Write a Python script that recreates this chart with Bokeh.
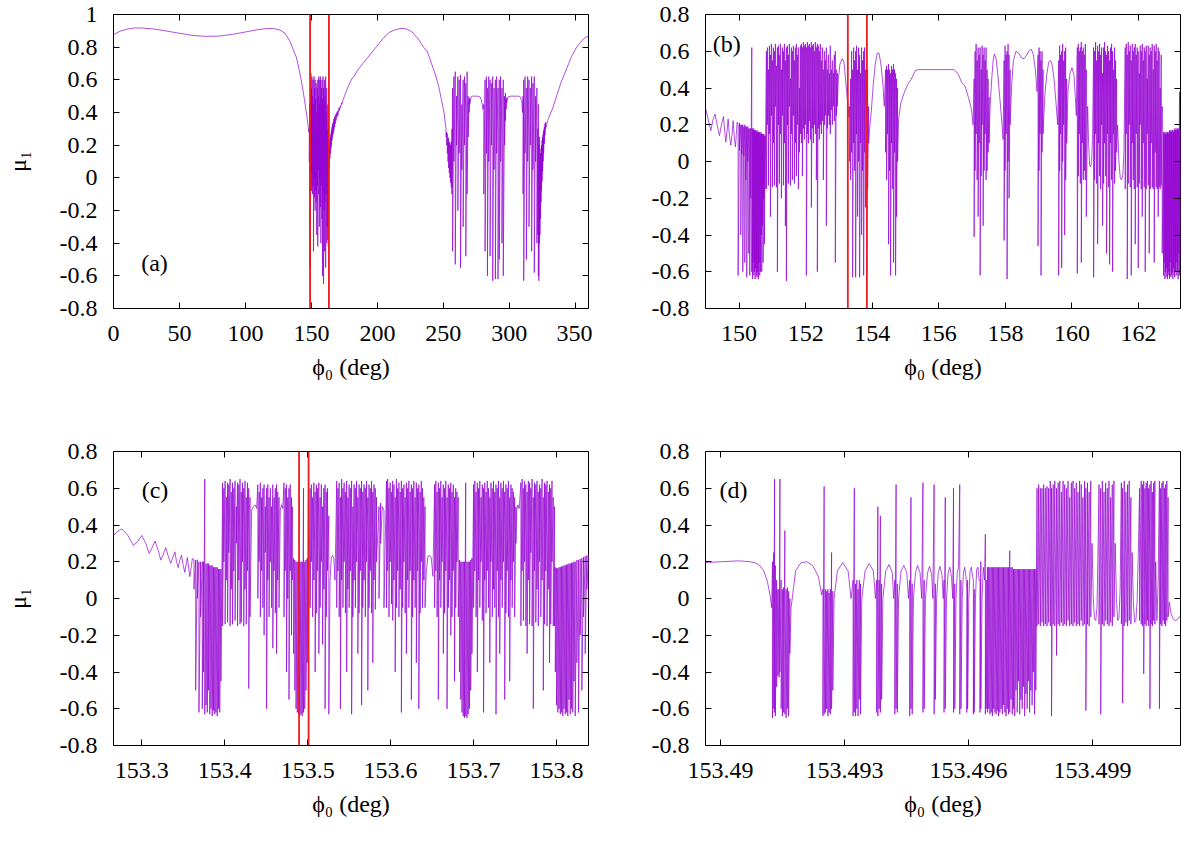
from bokeh.embed import file_html
from bokeh.layouts import column, row
from bokeh.models import FixedTicker, Label, LinearAxis, Span
from bokeh.plotting import figure
from bokeh.resources import INLINE

FONT = "'Liberation Serif', 'Times New Roman', serif"
PURPLE = "#9400d3"
RED = "#ee1c1c"

# Every trace as (phi0, upper, lower).
# Where the curve is smooth upper == lower; in the chaotic bands the line
# runs up to upper and straight back down to lower at the same phi0.

# (a) full turn of phi0
a_phi = [
    0, 5, 10, 16, 22, 30, 40, 50, 60, 70, 80, 90, 100, 110, 118, 122, 126, 130, 133.5, 136, 138.5, 140.5, 142.2, 143.5, 144.7, 146, 147.2, 148,
    148.4, 148.8, 149.2, 149.6, 150.0, 150.4, 150.8, 151.2, 151.6, 152.0, 152.4, 152.8, 153.2, 153.6, 154.0, 154.4, 154.8, 155.2, 155.6, 156.0, 156.4, 156.8, 157.2, 157.6, 158.0, 158.4, 158.8, 159.2, 159.6, 160.0, 160.4, 160.8, 161.2, 161.6, 162.0, 162.4, 162.8,
    163.2, 163.6, 164.0, 164.4, 164.8, 165.2, 165.6, 166.0, 166.5, 167.0, 167.5, 168.0, 168.6, 169.2, 170.0, 171, 172, 173,
    175, 177, 179, 181, 183, 185, 187, 189, 192, 195, 198, 201, 205, 209, 213, 218, 222, 226, 231, 235, 238, 241, 244, 246.5, 248.5, 250.5,
    252.0, 252.5, 253.0, 253.5, 254.0, 254.5, 255.0, 255.5, 256.0, 256.5,
    257.0, 258.0, 259.0, 260.0, 261.0, 262.0, 263.0, 264.0, 265.0, 266.0, 267.0, 268.0, 268.8, 269.5, 270.0,
    271, 272, 276, 278, 279, 280,
    280.6, 281.6, 282.6, 283.4, 284.4, 285.4, 286.4, 287.4, 288.4, 289.4, 290.4, 291.4, 292.4, 293.4, 294.4, 295.4, 296.4, 297.0, 297.5, 298.0,
    299, 301, 307, 308.5, 309.5, 310,
    310.4, 310.9, 311.9, 312.9, 313.9, 314.9, 315.9, 316.9, 317.9, 318.9, 319.9, 320.9,
    321.6, 322.0, 322.4, 322.8, 323.2, 323.6, 324.0, 324.4, 324.8, 325.2, 325.6, 326.0, 326.5, 327.0, 327.5,
    329, 331, 333, 335, 337, 339, 341, 343, 345, 347, 349, 351, 353, 355, 357, 360,
]
a_hi = [
    .877, .898, .910, .918, .917, .912, .899, .885, .872, .866, .868, .878, .893, .908, .915, .913, .905, .885, .84, .79, .74, .67, .60, .54, .48, .41, .34, .28,
    .30, .45, .35, .64, .55, .62, .50, .60, .45, .62, .55, .60, .48, .58, .40, .55, .60, .50, .62, .45, .60, .62, .50, .55, .60, .48, .62, .55, .45, .60, .50, .62, .40, .55, .30, .45, .20,
    .15, .19, .22, .25, .27, .29, .31, .33, .34, .36, .37, .38, .39, .40, .41, .43, .44, .46,
    .50, .54, .58, .61, .63, .66, .68, .70, .73, .76, .79, .82, .86, .89, .905, .915, .912, .895, .85, .80, .77, .70, .63, .56, .48, .40,
    .30, .28, .27, .25, .24, .22, .21, .20, .22, .30,
    .55, .62, .65, .50, .62, .60, .63, .45, .60, .62, .58, .65, .50, .48, .49,
    .495, .50, .50, .495, .47, .42,
    .45, .60, .62, .55, .62, .60, .58, .62, .55, .60, .62, .55, .60, .62, .55, .60, .50, .52, .48, .49,
    .495, .50, .50, .495, .46, .40,
    .50, .60, .62, .55, .62, .60, .55, .62, .58, .62, .50, .55,
    .30, .45, .20, .25, .10, .15, .18, .20, .23, .25, .27, .29, .31, .33, .34,
    .35, .39, .43, .48, .53, .58, .62, .66, .70, .74, .77, .80, .82, .84, .855, .87,
]
a_lo = [
    .877, .898, .910, .918, .917, .912, .899, .885, .872, .866, .868, .878, .893, .908, .915, .913, .905, .885, .84, .79, .74, .67, .60, .54, .48, .41, .34, .28,
    .10, -.55, -.62, .05, -.08, .02, -.10, -.05, -.45, .00, -.12, -.20, -.08, -.15, -.35, -.05, -.42, .05, -.10, -.30, .00, -.18, -.40, -.05, -.25, -.60, -.10, -.65, -.20, -.45, -.15, -.55, -.10, -.40, -.30, -.38, -.42,
    .05, .08, .12, .15, .18, .20, .23, .25, .27, .29, .31, .33, .35, .37, .38, .41, .43, .45,
    .50, .54, .58, .61, .63, .66, .68, .70, .73, .76, .79, .82, .86, .89, .905, .915, .912, .895, .85, .80, .77, .70, .63, .56, .48, .40,
    .25, .20, .15, .10, .06, .03, .00, -.03, -.06, -.10,
    -.45, .10, -.53, .20, -.20, .15, -.55, .05, -.30, .20, -.48, -.10, .25, .40, .45,
    .495, .50, .50, .495, .47, .42,
    -.10, -.45, .15, -.60, .10, -.48, .20, -.63, .05, -.62, .15, -.62, -.50, .10, -.40, -.60, .20, .35, .42, .46,
    .495, .50, .50, .495, .46, .40,
    -.10, -.63, .15, -.50, .10, -.30, .20, -.45, .05, -.58, .10, -.40,
    -.35, -.60, -.63, -.40, -.35, -.25, -.15, -.08, -.02, .04, .10, .15, .21, .26, .30,
    .35, .39, .43, .48, .53, .58, .62, .66, .70, .74, .77, .80, .82, .84, .855, .87,
]

# (b) zoom on the first chaotic window of (a)
b_phi = [
    149.00, 149.08, 149.15, 149.22, 149.28, 149.35, 149.41, 149.47, 149.53, 149.57, 149.60, 149.64, 149.67, 149.71, 149.75, 149.79, 149.82, 149.86, 149.89, 149.92, 149.94,
    149.97, 150.01, 150.05, 150.08, 150.11, 150.14, 150.17, 150.20, 150.23, 150.26, 150.29, 150.32, 150.35, 150.38,
    150.40, 150.42, 150.44, 150.46, 150.48, 150.50, 150.52, 150.54, 150.56, 150.58, 150.60, 150.62, 150.64, 150.66, 150.68, 150.70, 150.72, 150.74, 150.76, 150.78,
    150.82, 150.85, 150.88, 150.91, 150.94, 150.97, 151.00, 151.03, 151.06, 151.09,
    151.12, 151.15, 151.18, 151.21, 151.24, 151.27, 151.30, 151.33, 151.36, 151.39,
    151.42, 151.45, 151.48, 151.51, 151.54, 151.57, 151.60, 151.63, 151.66, 151.69,
    151.72, 151.75, 151.78, 151.81, 151.84, 151.87, 151.90, 151.93, 151.96, 151.99,
    152.02, 152.05, 152.08, 152.11, 152.14, 152.17, 152.20, 152.23, 152.26, 152.29,
    152.32, 152.35, 152.38, 152.41, 152.44, 152.47, 152.50, 152.53, 152.56, 152.59,
    152.62, 152.65, 152.68, 152.71, 152.74, 152.77, 152.80, 152.83, 152.86, 152.89,
    152.92, 152.95,
    152.98, 153.03, 153.10, 153.15, 153.19, 153.23, 153.27, 153.30,
    153.32, 153.35, 153.38, 153.41, 153.44, 153.47, 153.50, 153.53, 153.56, 153.59, 153.62, 153.65, 153.68, 153.71, 153.74, 153.77, 153.80, 153.83, 153.86, 153.89,
    153.92, 153.97, 154.03, 154.09, 154.15, 154.20, 154.26, 154.32, 154.36,
    154.40, 154.43, 154.46, 154.49, 154.52, 154.55, 154.58, 154.61, 154.64, 154.67, 154.70, 154.73, 154.76,
    154.79, 154.86, 154.96, 155.06, 155.16, 155.26, 155.30, 155.40, 156.45, 156.52, 156.59, 156.69, 156.79, 156.89, 156.98, 157.03,
    157.06, 157.09, 157.12, 157.15, 157.18, 157.21, 157.24, 157.27, 157.30, 157.33, 157.36, 157.39, 157.42, 157.45, 157.48, 157.51,
    157.54, 157.59, 157.63, 157.67, 157.72, 157.77, 157.83, 157.89, 157.93,
    157.96, 157.99, 158.02, 158.05, 158.08, 158.11, 158.14,
    158.19, 158.24, 158.32, 158.40, 158.48, 158.56, 158.64, 158.72, 158.78, 158.84, 158.90, 158.95,
    158.98, 159.01, 159.04, 159.07, 159.10, 159.13,
    159.18, 159.24, 159.30, 159.35, 159.40, 159.46, 159.52, 159.57,
    159.60, 159.63, 159.66, 159.69, 159.72, 159.75, 159.78, 159.81, 159.84,
    159.88, 159.94, 160.00, 160.06, 160.10, 160.13,
    160.16, 160.19, 160.22, 160.25, 160.28, 160.31, 160.34, 160.37, 160.40, 160.43,
    160.47, 160.50, 160.53, 160.56, 160.59, 160.62,
    160.65, 160.68, 160.71, 160.74, 160.77, 160.80, 160.83, 160.86, 160.89, 160.92, 160.95, 160.98,
    161.01, 161.04, 161.07, 161.10, 161.13, 161.16, 161.19, 161.22, 161.25, 161.28, 161.31, 161.34,
    161.37, 161.41, 161.45, 161.49, 161.53, 161.56,
    161.60, 161.63, 161.66, 161.69, 161.72, 161.75, 161.78, 161.81, 161.84, 161.87,
    161.90, 161.93, 161.96, 161.99, 162.02, 162.05, 162.08, 162.11, 162.14, 162.17,
    162.20, 162.23, 162.26, 162.29, 162.32, 162.35, 162.38, 162.41, 162.44, 162.47,
    162.50, 162.53, 162.56, 162.59, 162.62, 162.65, 162.68, 162.71,
    162.75, 162.77, 162.79, 162.81, 162.83, 162.85, 162.87, 162.89, 162.91, 162.93, 162.95, 162.97, 162.99, 163.01, 163.03, 163.05, 163.07, 163.09, 163.11, 163.13, 163.15, 163.17, 163.19, 163.21, 163.23, 163.25,
]
b_hi = [
    .285, .22, .168, .23, .258, .19, .141, .20, .245, .16, .106, .17, .231, .14, .088, .15, .222, .12, .079, .16, .213,
    .20, .21, .20, .20, .20, .19, .20, .19, .19, .19, .18, .18, .18, .62,
    .18, .17, .18, .17, .17, .17, .16, .17, .16, .16, .16, .16, .15, .16, .15, .15, .15, .15, .14, .14,
    .60, .62, .50, .63, .58, .64, .55, .62, .60, .64,
    .52, .62, .63, .58, .64, .50, .62, .60, .64, .55,
    .62, .63, .58, .64, .45, .62, .60, .63, .55, .62,
    .64, .58, .62, .40, .63, .64, .62, .65, .63, .64,
    .62, .65, .63, .64, .62, .65, .63, .64, .60, .65,
    .62, .64, .63, .60, .64, .55, .62, .50, .60, .55,
    .62, .50, .58, .48, .63, .50, .55, .48, .58, .60,
    .50, .48,
    .45, .53, .56, .54, .46, .38, .30, .24,
    .30, .45, .60, .50, .62, .55, .60, .63, .50, .62, .58, .48, .62, .55, .60, .62, .50, .45, .50, .30,
    .18, .27, .42, .53, .59, .59, .53, .42, .30,
    .50, .52, .50, .53, .50, .48, .52, .50, .53, .50, .48, .45, .40,
    .23, .32, .374, .419, .446, .48, .496, .50, .50, .49, .473, .428, .41, .348, .285, .20,
    .45, .60, .64, .55, .62, .58, .62, .50, .63, .58, .62, .55, .62, .50, .45, .35,
    .30, .45, .55, .585, .56, .48, .35, .22, .12,
    .55, .63, .58, .60, .64, .58, .50,
    .42, .55, .60, .59, .565, .56, .58, .605, .61, .58, .50, .38,
    .58, .62, .60, .55, .60, .50,
    .35, .47, .54, .55, .53, .45, .32, .20,
    .55, .63, .58, .60, .64, .55, .60, .62, .45,
    .38, .48, .51, .47, .35, .25,
    .62, .64, .60, .62, .65, .60, .62, .58, .64, .50,
    .30, .10, -.02, -.03, .00, .15,
    .62, .60, .65, .55, .63, .60, .64, .58, .62, .48, .62, .65,
    .60, .58, .63, .60, .55, .62, .64, .60, .50, .62, .55, .45,
    .20, .00, -.09, -.10, -.07, .05,
    .62, .64, .58, .65, .60, .63, .55, .64, .60, .62,
    .64, .58, .62, .60, .48, .63, .60, .64, .55, .62,
    .60, .63, .45, .63, .58, .62, .60, .64, .50, .63,
    .60, .64, .55, .62, .60, .40, .58, .30,
    .16, .15, .16, .15, .16, .15, .16, .15, .16, .17, .16, .17, .16, .17, .17, .16, .17, .18, .17, .18, .17, .18, .17, .18, .38, .18,
]
b_lo = [
    .285, .22, .168, .23, .258, .19, .141, .20, .245, .16, .106, .17, .231, .14, .088, .15, .222, .12, .079, .16, .213,
    -.62, .06, -.40, .04, -.60, .03, -.55, -.10, -.63, .00, -.50, -.62, -.20, -.60,
    -.64, -.55, -.62, -.60, -.64, -.58, -.62, -.63, -.60, -.64, -.55, -.62, -.60, -.40, -.60, -.35, -.55, -.20, -.45, -.15,
    -.15, .20, -.13, .15, -.30, .25, -.14, .10, -.13, .30,
    -.14, -.60, .20, -.12, .15, -.20, .25, -.13, .10, -.35,
    -.65, .20, -.12, .30, -.13, .15, -.10, .25, -.12, .10,
    -.08, .20, -.15, .05, .15, .10, -.08, .18, .12, .20,
    -.62, .15, .10, .22, .12, -.25, .18, .10, .20, .15,
    -.10, -.60, .18, .12, .20, .15, .22, -.10, .20, .25,
    -.35, .18, .25, .20, .15, .28, .20, .30, .22, -.55,
    .25, .30,
    .45, .53, .56, .54, .46, .38, .30, .24,
    .00, -.10, .05, -.63, .10, -.05, -.63, .15, -.30, .00, -.63, .10, -.40, -.05, -.62, .05, -.25, -.60, -.15, .10,
    .18, .27, .42, .53, .59, .59, .53, .42, .30,
    .05, -.10, .15, -.45, -.05, -.62, .10, -.15, -.55, .05, -.62, -.30, .00,
    .23, .32, .374, .419, .446, .48, .496, .50, .50, .49, .473, .428, .41, .348, .285, .20,
    -.41, -.05, .15, -.10, -.30, .10, -.62, -.08, .20, -.35, -.05, .15, -.10, -.05, .05, .10,
    .30, .45, .55, .585, .56, .48, .35, .22, .12,
    -.43, -.05, .15, -.64, .00, -.20, .20,
    .42, .55, .60, .59, .565, .56, .58, .605, .61, .58, .50, .38,
    -.46, -.05, .15, -.62, .05, .15,
    .35, .47, .54, .55, .53, .45, .32, .20,
    -.62, -.05, .15, -.58, .00, .20, -.40, -.10, .10,
    .38, .48, .51, .47, .35, .25,
    -.61, -.08, .15, -.12, -.55, .10, -.10, -.05, -.10, -.30,
    .30, .10, -.02, -.03, .00, .15,
    -.63, -.10, .15, -.12, -.45, .10, -.08, -.15, .20, -.35, -.12, .10,
    -.08, -.50, .15, -.14, -.56, .10, -.10, -.60, .15, -.12, -.05, .05,
    .20, .00, -.09, -.10, -.07, .05,
    -.15, .15, -.64, -.12, .20, -.14, -.62, .10, -.10, -.15,
    -.45, .15, -.14, -.58, -.12, .20, -.15, -.30, .10, -.14,
    -.60, -.15, .15, -.13, -.50, -.15, .10, -.14, -.15, -.55,
    .05, -.14, -.15, -.30, -.14, -.15, -.13, -.50,
    -.62, -.55, -.64, -.60, -.63, -.58, -.64, -.62, -.60, -.64, -.55, -.63, -.62, -.60, -.64, -.58, -.62, -.63, -.60, -.55, -.62, -.60, -.64, -.50, -.62, -.55,
]

# (c) zoom on the window marked in (b)
c_phi = [
    153.266, 153.271, 153.276, 153.283, 153.290, 153.295, 153.300, 153.305, 153.309, 153.313, 153.316, 153.320, 153.323, 153.326, 153.329, 153.332, 153.335, 153.338, 153.340, 153.342, 153.344, 153.346, 153.348, 153.350, 153.352, 153.354, 153.355, 153.357, 153.358, 153.360, 153.361,
    153.3630, 153.3650, 153.3670, 153.3690, 153.3710, 153.3730, 153.3745, 153.3760, 153.3775, 153.3790, 153.3805, 153.3820, 153.3835, 153.3850, 153.3865, 153.3880, 153.3895, 153.3910, 153.3925, 153.3940, 153.3955,
    153.3975, 153.3990, 153.4005, 153.4020, 153.4035, 153.4050, 153.4065, 153.4080, 153.4095, 153.4110, 153.4125, 153.4140, 153.4155, 153.4170, 153.4185, 153.4200, 153.4215, 153.4230, 153.4245, 153.4260, 153.4275, 153.4290, 153.4305,
    153.4325, 153.4345, 153.4365, 153.4385,
    153.4400, 153.4415, 153.4430, 153.4445, 153.4460, 153.4475, 153.4490, 153.4505, 153.4520, 153.4535, 153.4550, 153.4565, 153.4580, 153.4595, 153.4610, 153.4625, 153.4640, 153.4655,
    153.4670, 153.4685, 153.4700,
    153.4715, 153.4730, 153.4745, 153.4760, 153.4775, 153.4790, 153.4805, 153.4815,
    153.4830, 153.4845, 153.4860, 153.4875, 153.4890, 153.4905, 153.4920, 153.4935, 153.4950, 153.4965, 153.4980, 153.4995, 153.5010,
    153.5030, 153.5045, 153.5060, 153.5075, 153.5090, 153.5105, 153.5120, 153.5135, 153.5150, 153.5165, 153.5180, 153.5195, 153.5210, 153.5225, 153.5240, 153.5255,
    153.5270, 153.5285, 153.5300, 153.5315, 153.5330,
    153.5350, 153.5365, 153.5380, 153.5395, 153.5410, 153.5425, 153.5440, 153.5455, 153.5470, 153.5485,
    153.5500, 153.5515, 153.5530, 153.5545, 153.5560, 153.5575, 153.5590, 153.5605, 153.5620, 153.5635,
    153.5650, 153.5665, 153.5680, 153.5695, 153.5710, 153.5725, 153.5740, 153.5755, 153.5770, 153.5785,
    153.5800, 153.5815, 153.5830,
    153.5860, 153.5880, 153.5900, 153.5920,
    153.5950, 153.5965, 153.5980, 153.5995, 153.6010, 153.6025, 153.6040, 153.6055, 153.6070, 153.6085,
    153.6100, 153.6115, 153.6130, 153.6145, 153.6160, 153.6175, 153.6190, 153.6205, 153.6220, 153.6235,
    153.6250, 153.6265, 153.6280, 153.6295, 153.6310, 153.6325, 153.6340, 153.6355, 153.6370, 153.6385,
    153.6400, 153.6415,
    153.6430, 153.6450, 153.6470, 153.6490, 153.6510,
    153.6530, 153.6545, 153.6560, 153.6575, 153.6590, 153.6605, 153.6620, 153.6635, 153.6650, 153.6665,
    153.6680, 153.6695, 153.6710, 153.6725, 153.6740, 153.6755, 153.6770, 153.6785, 153.6800, 153.6815,
    153.6830, 153.6845, 153.6860, 153.6875, 153.6890, 153.6905, 153.6920, 153.6935, 153.6950, 153.6965, 153.6980,
    153.7000, 153.7015, 153.7030, 153.7045, 153.7060, 153.7075, 153.7090, 153.7105, 153.7120, 153.7135,
    153.7150, 153.7165, 153.7180, 153.7195, 153.7210, 153.7225, 153.7240, 153.7255, 153.7270, 153.7285,
    153.7300, 153.7315, 153.7330, 153.7345, 153.7360, 153.7375, 153.7390, 153.7405, 153.7420, 153.7435,
    153.7450, 153.7465, 153.7480, 153.7495, 153.7510,
    153.7520, 153.7535, 153.7550,
    153.7570, 153.7585, 153.7600, 153.7615, 153.7630, 153.7645, 153.7660, 153.7675, 153.7690, 153.7705,
    153.7720, 153.7735, 153.7750, 153.7765, 153.7780, 153.7795, 153.7810, 153.7825, 153.7840, 153.7855,
    153.7870, 153.7885, 153.7900, 153.7915, 153.7930, 153.7945, 153.7960, 153.7975,
    153.7985, 153.8000, 153.8015, 153.8030, 153.8045, 153.8060, 153.8075, 153.8090, 153.8105, 153.8120, 153.8135, 153.8150, 153.8165, 153.8180, 153.8195, 153.8210, 153.8225, 153.8245, 153.8265, 153.8285, 153.8305, 153.8325, 153.8345, 153.8365, 153.8385,
]
c_hi = [
    .343, .365, .379, .345, .289, .31, .343, .30, .245, .28, .313, .26, .209, .24, .277, .23, .191, .23, .254, .20, .168, .21, .236, .18, .142, .20, .223, .15, .119, .18, .218,
    .21, .21, .21, .20, .20, .20, .20, .65, .19, .19, .19, .18, .18, .18, .17, .17, .17, .17, .16, .16, .16,
    .63, .60, .64, .55, .63, .62, .65, .58, .63, .60, .64, .50, .63, .62, .65, .58, .63, .60, .64, .55, .63, .60, .55,
    .48, .50, .51, .49,
    .62, .58, .63, .55, .60, .62, .50, .60, .62, .55, .60, .50, .62, .55, .60, .62, .58, .55,
    .48, .51, .49,
    .63, .60, .62, .55, .60, .62, .55, .50,
    .22, .21, .20, .20, .20, .20, .20, .20, .60, .20, .21, .22, .62,
    .60, .62, .55, .63, .58, .62, .60, .63, .55, .62, .50, .60, .62, .58, .60, .45,
    .10, .22, .235, .22, .10,
    .64, .60, .63, .55, .65, .60, .63, .58, .64, .55,
    .62, .60, .64, .50, .62, .60, .64, .55, .62, .60,
    .64, .58, .62, .60, .64, .55, .62, .60, .64, .58,
    .62, .60, .55,
    .50, .52, .50, .48,
    .64, .65, .60, .63, .58, .64, .62, .55, .65, .60,
    .63, .58, .64, .60, .62, .55, .63, .60, .64, .58,
    .62, .60, .64, .55, .63, .60, .62, .58, .64, .60,
    .55, .50,
    .15, .23, .235, .22, .12,
    .62, .64, .58, .63, .60, .64, .55, .62, .60, .64,
    .55, .62, .60, .63, .58, .62, .55, .60, .58, .55,
    .21, .20, .20, .20, .20, .63, .20, .20, .20, .21, .22,
    .62, .64, .58, .63, .60, .64, .55, .62, .60, .63,
    .58, .64, .60, .55, .63, .60, .64, .58, .62, .60,
    .64, .55, .63, .60, .64, .58, .62, .60, .64, .55,
    .62, .60, .58, .55, .50,
    .48, .51, .49,
    .63, .65, .60, .64, .62, .58, .64, .63, .60, .65,
    .55, .63, .62, .64, .58, .62, .60, .65, .55, .63,
    .62, .64, .58, .62, .60, .64, .55, .50,
    .17, .165, .165, .17, .17, .175, .175, .18, .18, .185, .185, .19, .19, .195, .195, .20, .20, .21, .21, .215, .22, .225, .23, .235, .24,
]
c_lo = [
    .343, .365, .379, .345, .289, .31, .343, .30, .245, .28, .313, .26, .209, .24, .277, .23, .191, .23, .254, .20, .168, .21, .236, .18, .142, .20, .223, .15, .119, .18, .218,
    .05, -.50, .00, -.62, -.10, -.60, -.40, -.63, -.58, -.62, -.50, -.63, -.60, -.64, -.61, -.63, -.62, -.64, -.60, -.62, -.45,
    -.15, .20, -.14, .10, -.13, .25, -.15, .05, -.14, .15, -.12, .30, -.15, .10, -.14, -.13, .20, -.15, .05, -.14, .15, -.49, -.10,
    .48, .50, .51, .49,
    .00, .20, -.10, .15, -.05, -.20, .25, -.60, .10, -.10, .20, -.05, -.27, .15, -.08, -.30, .10, -.05,
    .48, .51, .49,
    -.10, .15, -.40, .00, -.55, .15, -.20, .10,
    -.30, -.50, -.60, -.62, -.63, -.64, -.63, -.64, -.62, -.60, -.50, -.35, -.20,
    -.05, .20, -.10, .10, -.40, -.08, .15, -.30, -.05, .20, -.25, .05, -.60, -.10, .15, -.63,
    .10, .22, .235, .22, .10,
    -.05, .15, -.10, -.60, .10, -.05, .20, -.08, -.40, .05,
    -.05, .15, -.63, -.10, .10, -.05, .20, -.30, -.08, .15,
    -.58, -.05, .10, -.10, .20, -.50, -.05, .15, -.08, -.35,
    .10, -.06, .20,
    .00, .30, .50, -.05,
    -.05, .15, -.10, .20, -.03, -.12, .10, -.40, -.05, .15,
    -.10, .05, -.62, -.05, .20, -.08, -.30, .10, -.05, .15,
    -.55, -.10, .10, -.05, -.35, .15, -.60, -.08, .20, -.05,
    .10, -.05,
    .15, .23, .235, .22, .12,
    -.05, .15, -.10, -.55, .10, -.05, .20, -.30, -.08, .15,
    -.60, -.05, .10, -.20, -.10, .15, -.45, -.05, .20, -.10,
    -.40, -.55, -.62, -.64, -.65, -.64, -.65, -.63, -.60, -.50, -.30,
    -.05, .15, -.10, -.40, .10, -.05, .20, -.12, -.62, .10,
    -.08, .15, -.05, -.35, .20, -.10, .05, -.05, -.63, .15,
    -.10, -.30, .10, -.05, .20, -.55, -.08, .15, -.10, -.45,
    .10, -.05, .20, -.10, .30,
    .48, .51, .49,
    -.15, .15, -.12, .20, -.15, -.30, .10, -.14, .25, -.15,
    -.60, .15, -.13, .05, -.15, .20, -.10, .10, -.50, -.14,
    .15, -.15, .05, -.35, -.14, .20, -.15, -.15,
    -.40, -.58, -.62, -.60, -.63, -.62, -.64, -.60, -.63, -.62, -.64, -.55, -.63, -.60, -.62, -.45, -.64, -.35, -.62, -.20, -.50, -.10, -.30, .05, -.05,
]

# (d) zoom on the window marked in (c)
d_phi = [
    153.48964, 153.49000, 153.49046, 153.49073, 153.49085, 153.49095, 153.49105, 153.49114, 153.49120, 153.49124,
    153.49126, 153.49129, 153.49131, 153.49133, 153.49136, 153.49139, 153.49142, 153.49144, 153.49147, 153.49150, 153.49153, 153.49156, 153.49159, 153.49162, 153.49165, 153.49168,
    153.49171, 153.49182, 153.49195, 153.49209, 153.49223, 153.49237, 153.49245,
    153.49248, 153.49251, 153.49254, 153.49257, 153.49260, 153.49263, 153.49266, 153.49269, 153.49272,
    153.49275, 153.49283, 153.49296, 153.49309, 153.49316,
    153.49321, 153.49324, 153.49327, 153.49330, 153.49333, 153.49336, 153.49339,
    153.49342, 153.49350, 153.49360, 153.49370, 153.49375,
    153.49378, 153.49381, 153.49384, 153.49387, 153.49390,
    153.49393, 153.49400, 153.49408, 153.49416, 153.49419,
    153.49422, 153.49425, 153.49428,
    153.49431, 153.49437, 153.49444, 153.49451, 153.49455,
    153.49458, 153.49461, 153.49464,
    153.49467, 153.49472, 153.49477, 153.49483, 153.49487,
    153.49490, 153.49493,
    153.49496, 153.49501, 153.49506, 153.49511, 153.49514,
    153.49517, 153.49520,
    153.49523, 153.49527, 153.49531, 153.49536, 153.49539,
    153.49541, 153.49544,
    153.49547, 153.49551, 153.49555, 153.49559, 153.49562,
    153.49564, 153.49567,
    153.49570, 153.49573, 153.49576,
    153.49579, 153.49582,
    153.49585, 153.49588, 153.49591, 153.49594,
    153.49596, 153.49598,
    153.49601, 153.49604, 153.49607, 153.49610,
    153.49612, 153.49614,
    153.49617, 153.49620, 153.49623, 153.49626,
    153.49628, 153.49630,
    153.49633, 153.49636, 153.49639,
    153.49641, 153.49643,
    153.49646, 153.49649, 153.49652, 153.49655, 153.49658, 153.49661, 153.49664, 153.49667, 153.49670, 153.49673, 153.49676, 153.49679, 153.49682, 153.49685, 153.49688, 153.49691, 153.49694, 153.49697, 153.49700, 153.49703,
    153.49706, 153.49709, 153.49712, 153.49715, 153.49718, 153.49721, 153.49724, 153.49727, 153.49730, 153.49733, 153.49736, 153.49739, 153.49742, 153.49745, 153.49748, 153.49751, 153.49754, 153.49757, 153.49760, 153.49763,
    153.49766, 153.49770, 153.49774, 153.49778, 153.49782, 153.49786, 153.49790, 153.49794, 153.49798, 153.49801, 153.49805, 153.49809, 153.49813, 153.49817, 153.49821, 153.49825, 153.49829,
    153.49833, 153.49837, 153.49841, 153.49845, 153.49849, 153.49853, 153.49857, 153.49861, 153.49865, 153.49869, 153.49873, 153.49877, 153.49881, 153.49884, 153.49888, 153.49892, 153.49896,
    153.49899, 153.49902, 153.49905, 153.49908, 153.49911, 153.49913,
    153.49916, 153.49920, 153.49924, 153.49928, 153.49932, 153.49936, 153.49940, 153.49944, 153.49948, 153.49952,
    153.49955, 153.49958, 153.49961, 153.49964, 153.49967,
    153.49970, 153.49973, 153.49977, 153.49981, 153.49985, 153.49989, 153.49993,
    153.49996, 153.49999, 153.50002, 153.50005, 153.50008, 153.50011,
    153.50014, 153.50018, 153.50021, 153.50024, 153.50027, 153.50030, 153.50033, 153.50036, 153.50039, 153.50042, 153.50045, 153.50048, 153.50051,
    153.50053, 153.50056, 153.50059,
    153.50062, 153.50065, 153.50068, 153.50071, 153.50074, 153.50077, 153.50080, 153.50083,
    153.50086, 153.50090, 153.50095, 153.50100, 153.50105, 153.50110, 153.50113,
]
d_hi = [
    .196, .200, .205, .200, .193, .18, .15, .09, .02, -.05,
    .20, .25, .65, .18, .10, .05, .05, .65, .10, .05, .06, .37, .05, .06, .04, .00,
    -.05, .15, .195, .20, .18, .12, .02,
    .05, .61, .05, .04, .05, .03, .05, .25, .04,
    .00, .15, .195, .15, .00,
    .10, .60, .08, .10, .05, .10, .08,
    .00, .15, .19, .15, .00,
    .10, .50, .10, .45, .08,
    .00, .15, .185, .14, .00,
    .10, .62, .08,
    .00, .15, .18, .14, .00,
    .10, .55, .08,
    .00, .14, .18, .14, .00,
    .63, .10,
    .00, .14, .175, .13, .00,
    .62, .08,
    .00, .14, .175, .13, .00,
    .10, .55,
    .00, .14, .17, .12, .00,
    .60, .08,
    .00, .14, .17,
    .62, .10,
    .00, .14, .17, .12,
    .05, .10,
    .00, .15, .17, .12,
    .10, .05,
    .00, .16, .17, .10,
    .10, .20,
    .00, .17, .10,
    .35, .10,
    .17, .17, .17, .17, .17, .17, .17, .17, .17, .17, .17, .17, .17, .17, .17, .17, .17, .17, .26, .17,
    .17, .16, .16, .16, .16, .16, .16, .16, .16, .16, .16, .16, .16, .16, .16, .16, .16, .16, .16, .16,
    .60, .62, .60, .60, .62, .60, .61, .60, .64, .60, .62, .64, .60, .63, .64, .58, .64,
    .62, .60, .64, .55, .63, .64, .60, .63, .58, .64, .62, .55, .64, .60, .63, .58, .64,
    .30, .00, -.11, -.12, -.05, .20,
    .62, .60, .64, .58, .63, .60, .64, .55, .62, .64,
    .30, .00, -.12, -.11, .05,
    .63, .60, .64, .58, .62, .64, .55,
    .25, -.02, -.13, -.12, -.02, .25,
    .60, .64, .62, .64, .60, .63, .64, .60, .62, .64, .58, .63, .64,
    .20, -.12, .10,
    .64, .60, .63, .64, .60, .62, .64, .55,
    -.02, -.08, -.11, -.12, -.115, -.10, -.10,
]
d_lo = [
    .196, .200, .205, .200, .193, .18, .15, .09, .02, -.05,
    -.65, -.60, -.62, -.64, -.48, -.42, -.43, -.40, -.60, -.64, -.62, -.63, -.65, -.60, -.64, -.30,
    -.05, .15, .195, .20, .18, .12, .02,
    -.64, -.63, -.62, -.60, -.64, -.62, -.63, -.60, -.50,
    .00, .15, .195, .15, .00,
    -.64, -.62, -.64, -.60, -.64, -.55, -.63,
    .00, .15, .19, .15, .00,
    -.62, -.64, -.60, -.62, -.55,
    .00, .15, .185, .14, .00,
    -.63, -.60, -.62,
    .00, .15, .18, .14, .00,
    -.64, -.60, -.63,
    .00, .14, .18, .14, .00,
    -.62, -.60,
    .00, .14, .175, .13, .00,
    -.63, -.55,
    .00, .14, .175, .13, .00,
    -.62, -.60,
    .00, .14, .17, .12, .00,
    -.62, -.60,
    .00, .14, .17,
    -.63, -.60,
    .00, .14, .17, .12,
    -.62, -.60,
    .00, .15, .17, .12,
    -.63, -.62,
    .00, .16, .17, .10,
    -.62, -.60,
    .00, .17, .10,
    -.63, -.60,
    -.62, -.60, -.63, -.62, -.64, -.60, -.62, -.63, -.61, -.64, -.62, -.60, -.63, -.58, -.62, -.64, -.60, -.63, -.62, -.55,
    -.63, -.60, -.64, -.50, -.62, -.45, -.63, -.55, -.60, -.48, -.64, -.52, -.60, -.45, -.62, -.50, -.58, -.40, -.63, -.50,
    -.15, -.14, -.15, -.13, -.15, -.14, -.15, -.13, -.15, -.64, -.14, -.15, -.31, -.14, -.15, -.13, -.15,
    -.14, -.15, -.12, -.15, -.14, -.15, -.13, -.15, -.14, -.15, -.12, -.15, -.14, -.61, -.14, -.15, -.10,
    .30, .00, -.11, -.12, -.05, .20,
    -.14, -.63, -.14, -.15, -.12, -.14, -.15, -.13, -.15, -.10,
    .30, .00, -.12, -.11, .05,
    -.14, -.57, -.15, -.13, -.15, -.12, -.14,
    .25, -.02, -.13, -.12, -.02, .25,
    -.12, -.14, -.15, -.41, -.14, -.15, -.12, -.15, -.60, -.14, -.15, -.12, -.14,
    .20, -.12, .10,
    -.60, -.14, -.15, -.12, -.14, -.15, -.12, -.10,
    -.02, -.08, -.11, -.12, -.115, -.10, -.10,
]

# axes
a_xticks = [0, 50, 100, 150, 200, 250, 300, 350]
b_xticks = [150, 152, 154, 156, 158, 160, 162]
c_xticks = [153.3, 153.4, 153.5, 153.6, 153.7, 153.8]
d_xticks = [153.49, 153.493, 153.496, 153.499]
d_xlabels = ["153.49", "153.493", "153.496", "153.499"]
a_yticks = [-0.8, -0.6, -0.4, -0.2, 0, 0.2, 0.4, 0.6, 0.8, 1]
a_ylabels = ["-0.8", "-0.6", "-0.4", "-0.2", "0", "0.2", "0.4", "0.6", "0.8", "1"]
yticks = [-0.8, -0.6, -0.4, -0.2, 0, 0.2, 0.4, 0.6, 0.8]
ylabels = ["-0.8", "-0.6", "-0.4", "-0.2", "0", "0.2", "0.4", "0.6", "0.8"]

# windows: each panel's range, which is also the red mark in the panel before
a_range = (0, 360)
b_range = (148.99, 163.26)
c_range = (153.266, 153.8385)
d_range = (153.48964, 153.50113)


def trace(phi, hi, lo):
    xs, ys = [], []
    for x, h, l in zip(phi, hi, lo, strict=True):
        xs.append(x)
        ys.append(h)
        if l != h:
            xs.append(x)
            ys.append(l)
    return xs, ys


def dress(axis, ticks, labels, size="24px"):
    axis.ticker = FixedTicker(ticks=ticks)
    axis.major_label_overrides = dict(zip(ticks, labels))
    axis.axis_line_color = None
    axis.major_tick_in = 6
    axis.major_tick_out = 0
    axis.major_tick_line_color = "black"
    axis.minor_tick_line_color = None
    axis.major_label_text_font = FONT
    axis.major_label_text_font_size = size
    axis.major_label_text_color = "black"
    axis.axis_label_text_font = FONT
    axis.axis_label_text_font_size = "24px"
    axis.axis_label_text_font_style = "normal"
    axis.axis_label_text_color = "black"


def panel(phi, hi, lo, xr, yr, xt, xl, yt, yl, cuts, tag, tag_at, top, y_title):
    p = figure(width=592, height=414, x_range=xr, y_range=yr,
               output_backend="svg", toolbar_location=None,
               min_border_left=113, min_border_right=4,
               min_border_top=14 if top else 37,
               min_border_bottom=106 if top else 83)
    p.outline_line_color = "black"
    p.outline_line_width = 1
    p.grid.visible = False

    xs, ys = trace(phi, hi, lo)
    p.line(xs, ys, line_color=PURPLE, line_width=0.7)
    for c in cuts:
        p.add_layout(Span(location=c, dimension="height", line_color=RED, line_width=1.8))

    dress(p.xaxis[0], xt, xl)
    p.xaxis[0].axis_label = "ϕ₀ (deg)"
    p.xaxis[0].major_label_standoff = 17
    p.xaxis[0].axis_label_standoff = 10
    dress(p.yaxis[0], yt, yl)
    p.yaxis[0].major_label_standoff = 16
    if y_title:
        p.yaxis[0].axis_label = "μ₁"
        p.yaxis[0].axis_label_standoff = 26

    # gnuplot style mirrored ticks
    for side, ticks in (("above", xt), ("right", yt)):
        mirror = LinearAxis()
        dress(mirror, ticks, [""] * len(ticks), size="1px")
        mirror.major_label_standoff = 0
        p.add_layout(mirror, side)

    p.add_layout(Label(x=tag_at[0], y=tag_at[1], text=tag, text_font=FONT,
                       text_font_size="24px", text_baseline="middle", text_color="black"))
    return p


pa = panel(a_phi, a_hi, a_lo, a_range, (-0.8, 1.0), a_xticks, [str(t) for t in a_xticks],
           a_yticks, a_ylabels, b_range, "(a)", (21, -0.52), True, True)
pb = panel(b_phi, b_hi, b_lo, b_range, (-0.8, 0.8), b_xticks, [str(t) for t in b_xticks],
           yticks, ylabels, c_range, "(b)", (149.21, 0.64), True, False)
pc = panel(c_phi, c_hi, c_lo, c_range, (-0.8, 0.8), c_xticks, [str(t) for t in c_xticks],
           yticks, ylabels, d_range, "(c)", (153.300, 0.589), False, True)
pd = panel(d_phi, d_hi, d_lo, d_range, (-0.8, 0.8), d_xticks, d_xlabels,
           yticks, ylabels, (), "(d)", (153.48998, 0.589), False, False)

layout = column(row(pa, pb), row(pc, pd))
open("out.html", "w").write(file_html(layout, INLINE, title="mu1 vs phi0"))
